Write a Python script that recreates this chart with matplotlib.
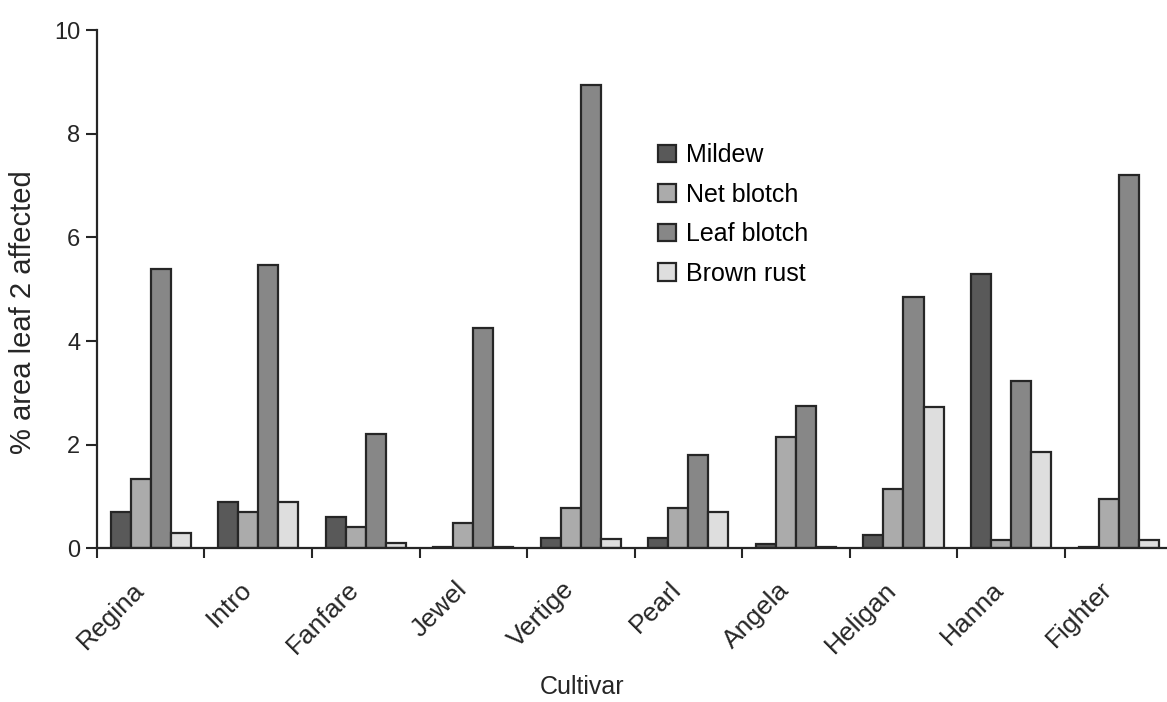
import matplotlib
matplotlib.use("Agg")
import matplotlib.pyplot as plt
import matplotlib.transforms as mtransforms
import numpy as np

plt.rcParams['font.family'] = ['Liberation Sans', 'DejaVu Sans']

cultivars = ["Regina", "Intro", "Fanfare", "Jewel", "Vertige",
             "Pearl", "Angela", "Heligan", "Hanna", "Fighter"]
diseases = ["Mildew", "Net blotch", "Leaf blotch", "Brown rust"]

mildew = [0.7, 0.9, 0.6, 0.03, 0.2, 0.2, 0.08, 0.25, 5.3, 0.03]
net_blotch = [1.33, 0.7, 0.42, 0.48, 0.78, 0.78, 2.15, 1.15, 0.15, 0.95]
leaf_blotch = [5.4, 5.47, 2.2, 4.25, 8.95, 1.8, 2.75, 4.85, 3.22, 7.2]
brown_rust = [0.3, 0.89, 0.1, 0.03, 0.17, 0.7, 0.03, 2.73, 1.85, 0.15]

series = [mildew, net_blotch, leaf_blotch, brown_rust]
fills = ["#595959", "#ababab", "#878787", "#dedede"]
ink = "#262626"

fig = plt.figure(figsize=(11.67, 7.02), dpi=100)
ax = fig.add_axes([0.083, 0.219, 0.917, 0.738])

x = np.arange(len(cultivars))
w = 0.186
offsets = np.array([-1.5, -0.5, 0.5, 1.5]) * w
for vals, off, fc, name in zip(series, offsets, fills, diseases):
    ax.bar(x + off, vals, width=w, color=fc, edgecolor=ink,
           linewidth=1.6, label=name, zorder=2)

ax.set_xlim(-0.5, 9.45)
ax.set_ylim(0, 10)
ax.set_yticks([0, 2, 4, 6, 8, 10])
ax.tick_params(axis='y', labelsize=17, length=8, width=1.5, colors=ink, pad=4)

# labels sit at group centres, tick marks at the group boundaries
ax.set_xticks(x)
ax.set_xticklabels(cultivars, rotation=45, ha='right', rotation_mode='anchor',
                   fontsize=19, color=ink)
ax.tick_params(axis='x', which='major', length=0, pad=21)
shift = mtransforms.ScaledTranslation(-19 / 100, 0, fig.dpi_scale_trans)
for lab in ax.get_xticklabels():
    lab.set_transform(lab.get_transform() + shift)
ax.set_xticks(np.arange(-0.5, 9.5, 1.0), minor=True)
ax.tick_params(axis='x', which='minor', length=7, width=1.5, colors=ink)

for side in ("top", "right"):
    ax.spines[side].set_visible(False)
for side in ("left", "bottom"):
    ax.spines[side].set_linewidth(1.6)
    ax.spines[side].set_color(ink)

ax.set_ylabel("% area leaf 2 affected", fontsize=21, color=ink)
ax.yaxis.label.set_va('center')
ax.yaxis.set_label_coords(-0.069, 0.456)
ax.set_xlabel("Cultivar", fontsize=18, color=ink)
ax.xaxis.set_label_coords(0.453, -0.244)

ax.legend(loc='upper left', bbox_to_anchor=(0.5635, 0.796),
          bbox_transform=fig.transFigure, frameon=False, fontsize=18,
          handlelength=0.72, handleheight=0.72, handletextpad=0.4,
          labelspacing=0.62, borderaxespad=0, borderpad=0)

fig.savefig("out.png", dpi=100)
